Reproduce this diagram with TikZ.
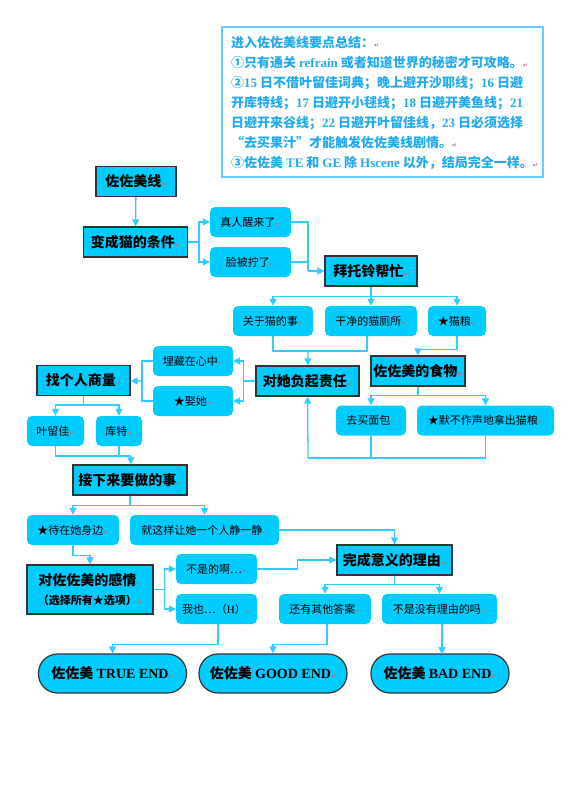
\documentclass[tikz,border=0pt]{standalone}
\usepackage{fontspec}
\setmainfont{Noto Sans CJK SC}
\newfontfamily\latfont{Liberation Serif}
\newfontfamily\markfont{DejaVu Sans}
\definecolor{boxcyan}{HTML}{00CCFF}
\definecolor{linkblue}{HTML}{33CCFF}
\definecolor{noteblue}{HTML}{66CCFF}
\definecolor{notetext}{HTML}{22AAEE}
\definecolor{edgegray}{HTML}{333333}
\definecolor{markred}{HTML}{CC6666}
\usetikzlibrary{arrows.meta,positioning}
\newcommand{\lt}[1]{{\latfont #1}}
\newcommand{\pmark}{{\markfont\fontsize{6}{6}\selectfont\color{markred}↵}}

\begin{document}
\begin{tikzpicture}[x=1pt,y=-1pt,
  mainbox/.style={draw=edgegray,line width=1.2pt,fill=boxcyan,minimum height=30pt,inner sep=0pt,font=\bfseries\fontsize{14}{17}\selectfont},
  subbox/.style={fill=boxcyan,rounded corners=5pt,minimum height=30pt,inner sep=0pt,font=\fontsize{11}{13}\selectfont},
  endbox/.style={draw=edgegray,line width=1.2pt,fill=boxcyan,rounded corners=19pt,minimum width=148pt,minimum height=39pt,inner sep=0pt,font=\bfseries\fontsize{14}{17}\selectfont},
  plain/.style={linkblue,line width=1.3pt},
  link/.style={plain,-{Triangle[length=7pt,width=7pt]}}]
  \useasboundingbox (0,0) rectangle (580,797);
  % Summary box
  \draw[noteblue,line width=1.8pt] (222,27) rectangle (543,177);
  \node[notetext,anchor=north west,align=left,inner sep=0pt,font=\bfseries\fontsize{13}{20}\selectfont] (notes) at (231,36) {进入佐佐美线要点总结：\pmark\\
①只有通关 \lt{refrain} 或者知道世界的秘密才可攻略。\pmark\\
②\lt{15} 日不借叶留佳词典；晚上避开沙耶线；\lt{16} 日避\\
开库特线；\lt{17} 日避开小毬线；\lt{18} 日避开美鱼线；\lt{21}\\
日避开来谷线；\lt{22} 日避开叶留佳线，\lt{23} 日必须选择\\
“去买果汁”才能触发佐佐美线剧情。\pmark\\
③佐佐美 \lt{TE} 和 \lt{GE} 除 \lt{Hscene} 以外，结局完全一样。\pmark};
  % Main steps
  \node[mainbox,minimum width=80pt] (line) at (136,181.5) {佐佐美线\pmark};
  \node[mainbox,minimum width=104pt] (cond) at (135.5,242) {变成猫的条件\pmark};
  \node[mainbox,minimum width=92pt] (ask) at (371,271) {拜托铃帮忙\pmark};
  \node[mainbox,minimum width=103pt] (resp) at (307.5,381) {对她负起责任\pmark};
  \node[mainbox,minimum width=94pt] (meal) at (418,371) {佐佐美的食物\pmark};
  \node[mainbox,minimum width=93pt] (talk) at (83.5,380.5) {找个人商量\pmark};
  \node[mainbox,minimum width=114pt] (next) at (130,480) {接下来要做的事\pmark};
  \node[mainbox,minimum width=126pt,minimum height=49pt,align=center] (feel) at (90,589.5) {对佐佐美的感情\pmark\\[2pt]{\fontsize{11}{13}\selectfont（选择所有★选项）\pmark}};
  \node[mainbox,minimum width=115pt] (reason) at (394.5,560) {完成意义的理由\pmark};
  % Choices
  \node[subbox,minimum width=81pt] (wake) at (250.5,222) {真人醒来了\pmark};
  \node[subbox,minimum width=81pt] (twist) at (250.5,262) {脸被拧了\pmark};
  \node[subbox,minimum width=80pt] (catthings) at (273,321) {关于猫的事\pmark};
  \node[subbox,minimum width=92pt] (litter) at (371,321) {干净的猫厕所\pmark};
  \node[subbox,minimum width=58pt] (catfood) at (457,321) {★猫粮\pmark};
  \node[subbox,minimum width=80pt] (bury) at (193,361) {埋藏在心中\pmark};
  \node[subbox,minimum width=80pt] (marry) at (193,401) {★娶她\pmark};
  \node[subbox,minimum width=57pt] (haruka) at (55.5,431) {叶留佳\pmark};
  \node[subbox,minimum width=46pt] (kud) at (119,431) {库特\pmark};
  \node[subbox,minimum width=70pt] (bread) at (371,420.5) {去买面包\pmark};
  \node[subbox,minimum width=137pt] (silent) at (485.5,420.5) {★默不作声地拿出猫粮\pmark};
  \node[subbox,minimum width=92pt] (stay) at (73,530) {★待在她身边\pmark};
  \node[subbox,minimum width=149pt] (alone) at (204.5,530) {就这样让她一个人静一静\pmark};
  \node[subbox,minimum width=81pt] (notso) at (216.5,569) {不是的啊…\pmark};
  \node[subbox,minimum width=81pt] (metoo) at (216.5,609) {我也…（\lt{H}）\pmark};
  \node[subbox,minimum width=92pt] (other) at (325,609) {还有其他答案\pmark};
  \node[subbox,minimum width=115pt] (noreason) at (439.5,609) {不是没有理由的吗\pmark};
  % Endings
  \node[endbox] (trueend) at (112.5,673.5) {佐佐美 \lt{TRUE END}\pmark};
  \node[endbox] (goodend) at (273,673.5) {佐佐美 \lt{GOOD END}\pmark};
  \node[endbox,minimum width=138pt] (badend) at (440,673.5) {佐佐美 \lt{BAD END}\pmark};
  % Connectors
  \draw[link] (line) -- (cond);
  \draw[plain] (cond.east) -- ++(11,0) coordinate (f1);
  \draw[link] (f1) |- (wake);
  \draw[link] (f1) |- (twist);
  \coordinate (j1) at (308,271);
  \draw[plain] (wake.east) -| (j1);
  \draw[plain] (twist.east) -| (j1);
  \draw[link] (j1) -- (ask);
  \draw[plain] (ask.south) -- ++(0,10) coordinate (f2);
  \draw[link] (f2) -| (catthings);
  \draw[link] (f2) -- (litter);
  \draw[link] (f2) -| (catfood);
  \coordinate (j2) at (308,351);
  \draw[plain] (catthings.south) |- (j2);
  \draw[plain] ([xshift=-4pt]litter.south) |- (j2);
  \draw[link] (j2) -- (resp);
  \draw[link] (catfood.south) -- ++(0,13) -| (meal);
  \draw[plain] (resp.west) -- ++(-12,0) coordinate (f3);
  \draw[link] (f3) |- (bury);
  \draw[link] (f3) |- (marry);
  \coordinate (j3) at (142,381);
  \draw[plain] (bury.west) -| (j3);
  \draw[plain] (marry.west) -| (j3);
  \draw[link] (j3) -- (talk);
  \draw[plain] (talk.south) -- ++(0,9) coordinate (f4);
  \draw[link] (f4) -| (haruka);
  \draw[link] (f4) -| (kud);
  \coordinate (j4) at (131,456);
  \draw[plain] (haruka.south) |- (j4);
  \draw[plain] (kud.south) |- (j4);
  \draw[link] (j4) -- (next);
  \draw[plain] (meal.south) -- ++(0,9) coordinate (f5);
  \draw[link] (f5) -| (bread);
  \draw[link] (f5) -| (silent);
  \coordinate (j5) at (308,458);
  \draw[plain] (bread.south) |- (j5);
  \draw[plain] (silent.south) |- (j5);
  \draw[link] (j5) -- (resp);
  \draw[plain] (next.south) -- ++(0,10) coordinate (f6);
  \draw[link] (f6) -| (stay);
  \draw[link] (f6) -| (alone);
  \draw[link] (stay.south) -- ++(0,10) -| (feel);
  \draw[link] (alone.east) -| (reason);
  \draw[plain] (feel.east) -- ++(11,0) coordinate (f7);
  \draw[link] (f7) |- (notso);
  \draw[link] (f7) |- (metoo);
  \draw[link] (notso.east) -- ++(40,0) |- (reason);
  \draw[plain] (reason.south) -- ++(0,9) coordinate (f8);
  \draw[link] (f8) -| (other);
  \draw[link] (f8) -| (noreason);
  \draw[link] ([xshift=1.5pt]metoo.south) -- ++(0,20) -| (trueend);
  \draw[link] ([xshift=2pt]other.south) -- ++(0,20) -| (goodend);
  \draw[link] ([xshift=2.5pt]noreason.south) -- ++(0,30);
\end{tikzpicture}
\end{document}
